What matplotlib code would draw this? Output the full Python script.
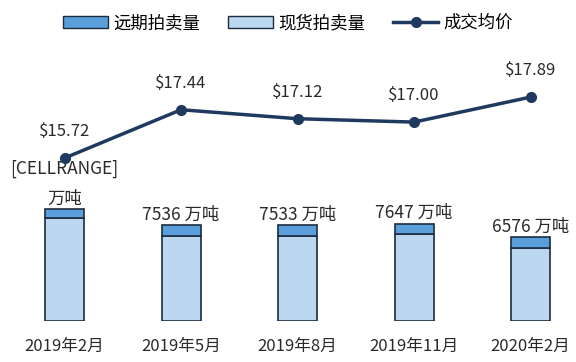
import matplotlib.pyplot as plt
from matplotlib.patches import Patch
from matplotlib.lines import Line2D

plt.rcParams['font.family'] = ['Noto Sans CJK SC', 'DejaVu Sans']

# data
months = ['2019年2月', '2019年5月', '2019年8月', '2019年11月', '2020年2月']
forward = [700, 860, 860, 800, 860]
totals = [8790, 7536, 7533, 7647, 6576]
spot = [t - f for t, f in zip(totals, forward)]
total_labels = ['[CELLRANGE]\n万吨', '7536 万吨', '7533 万吨', '7647 万吨', '6576 万吨']
prices = [15.72, 17.44, 17.12, 17.00, 17.89]

C_FWD = '#5a9fdc'
C_SPOT = '#bcd8f1'
C_EDGE = '#1c2b3d'
C_LINE = '#1f3a5f'

fig = plt.figure(figsize=(5.76, 3.62), dpi=100)
ax = fig.add_axes([0, 41 / 362, 1, 261 / 362])
x = list(range(len(months)))

ax.bar(x, spot, width=0.335, color=C_SPOT, edgecolor=C_EDGE, linewidth=1.2)
ax.bar(x, forward, width=0.335, bottom=spot, color=C_FWD, edgecolor=C_EDGE, linewidth=1.2)

for xi, t, lab in zip(x, totals, total_labels):
    ax.annotate(lab, (xi, t), xytext=(0, 1), textcoords='offset points',
                ha='center', va='bottom', fontsize=12.5, color='#2a2a2a', linespacing=1.85)

ax.set_xlim(-0.554, 4.39)
ax.set_ylim(0, 20489)
ax.set_xticks(x)
ax.set_xticklabels(months, fontsize=12, color='#2a2a2a')
ax.tick_params(axis='x', length=0, pad=12)
ax.set_yticks([])
for s in ax.spines.values():
    s.set_visible(False)

ax2 = ax.twinx()
ax2.plot(x, prices, color=C_LINE, linewidth=2.5, marker='o', markersize=7)
for xi, p in zip(x, prices):
    ax2.annotate(f'${p:.2f}', (xi, p), xytext=(0, 13), textcoords='offset points',
                 ha='center', va='bottom', fontsize=12, color='#2a2a2a')
ax2.set_ylim(9.92, 19.21)
ax2.set_yticks([])
for s in ax2.spines.values():
    s.set_visible(False)

handles = [Patch(facecolor=C_FWD, edgecolor=C_EDGE, label='远期拍卖量'),
           Patch(facecolor=C_SPOT, edgecolor=C_EDGE, label='现货拍卖量'),
           Line2D([0], [0], color=C_LINE, linewidth=2.5, marker='o', markersize=7, label='成交均价')]
fig.legend(handles=handles, loc='center', bbox_to_anchor=(0.5, 1 - 23 / 362), ncol=3,
           frameon=False, fontsize=12.5, handlelength=2.6, handleheight=0.7,
           columnspacing=1.6, handletextpad=0.3)

fig.savefig('out.png', dpi=100)
